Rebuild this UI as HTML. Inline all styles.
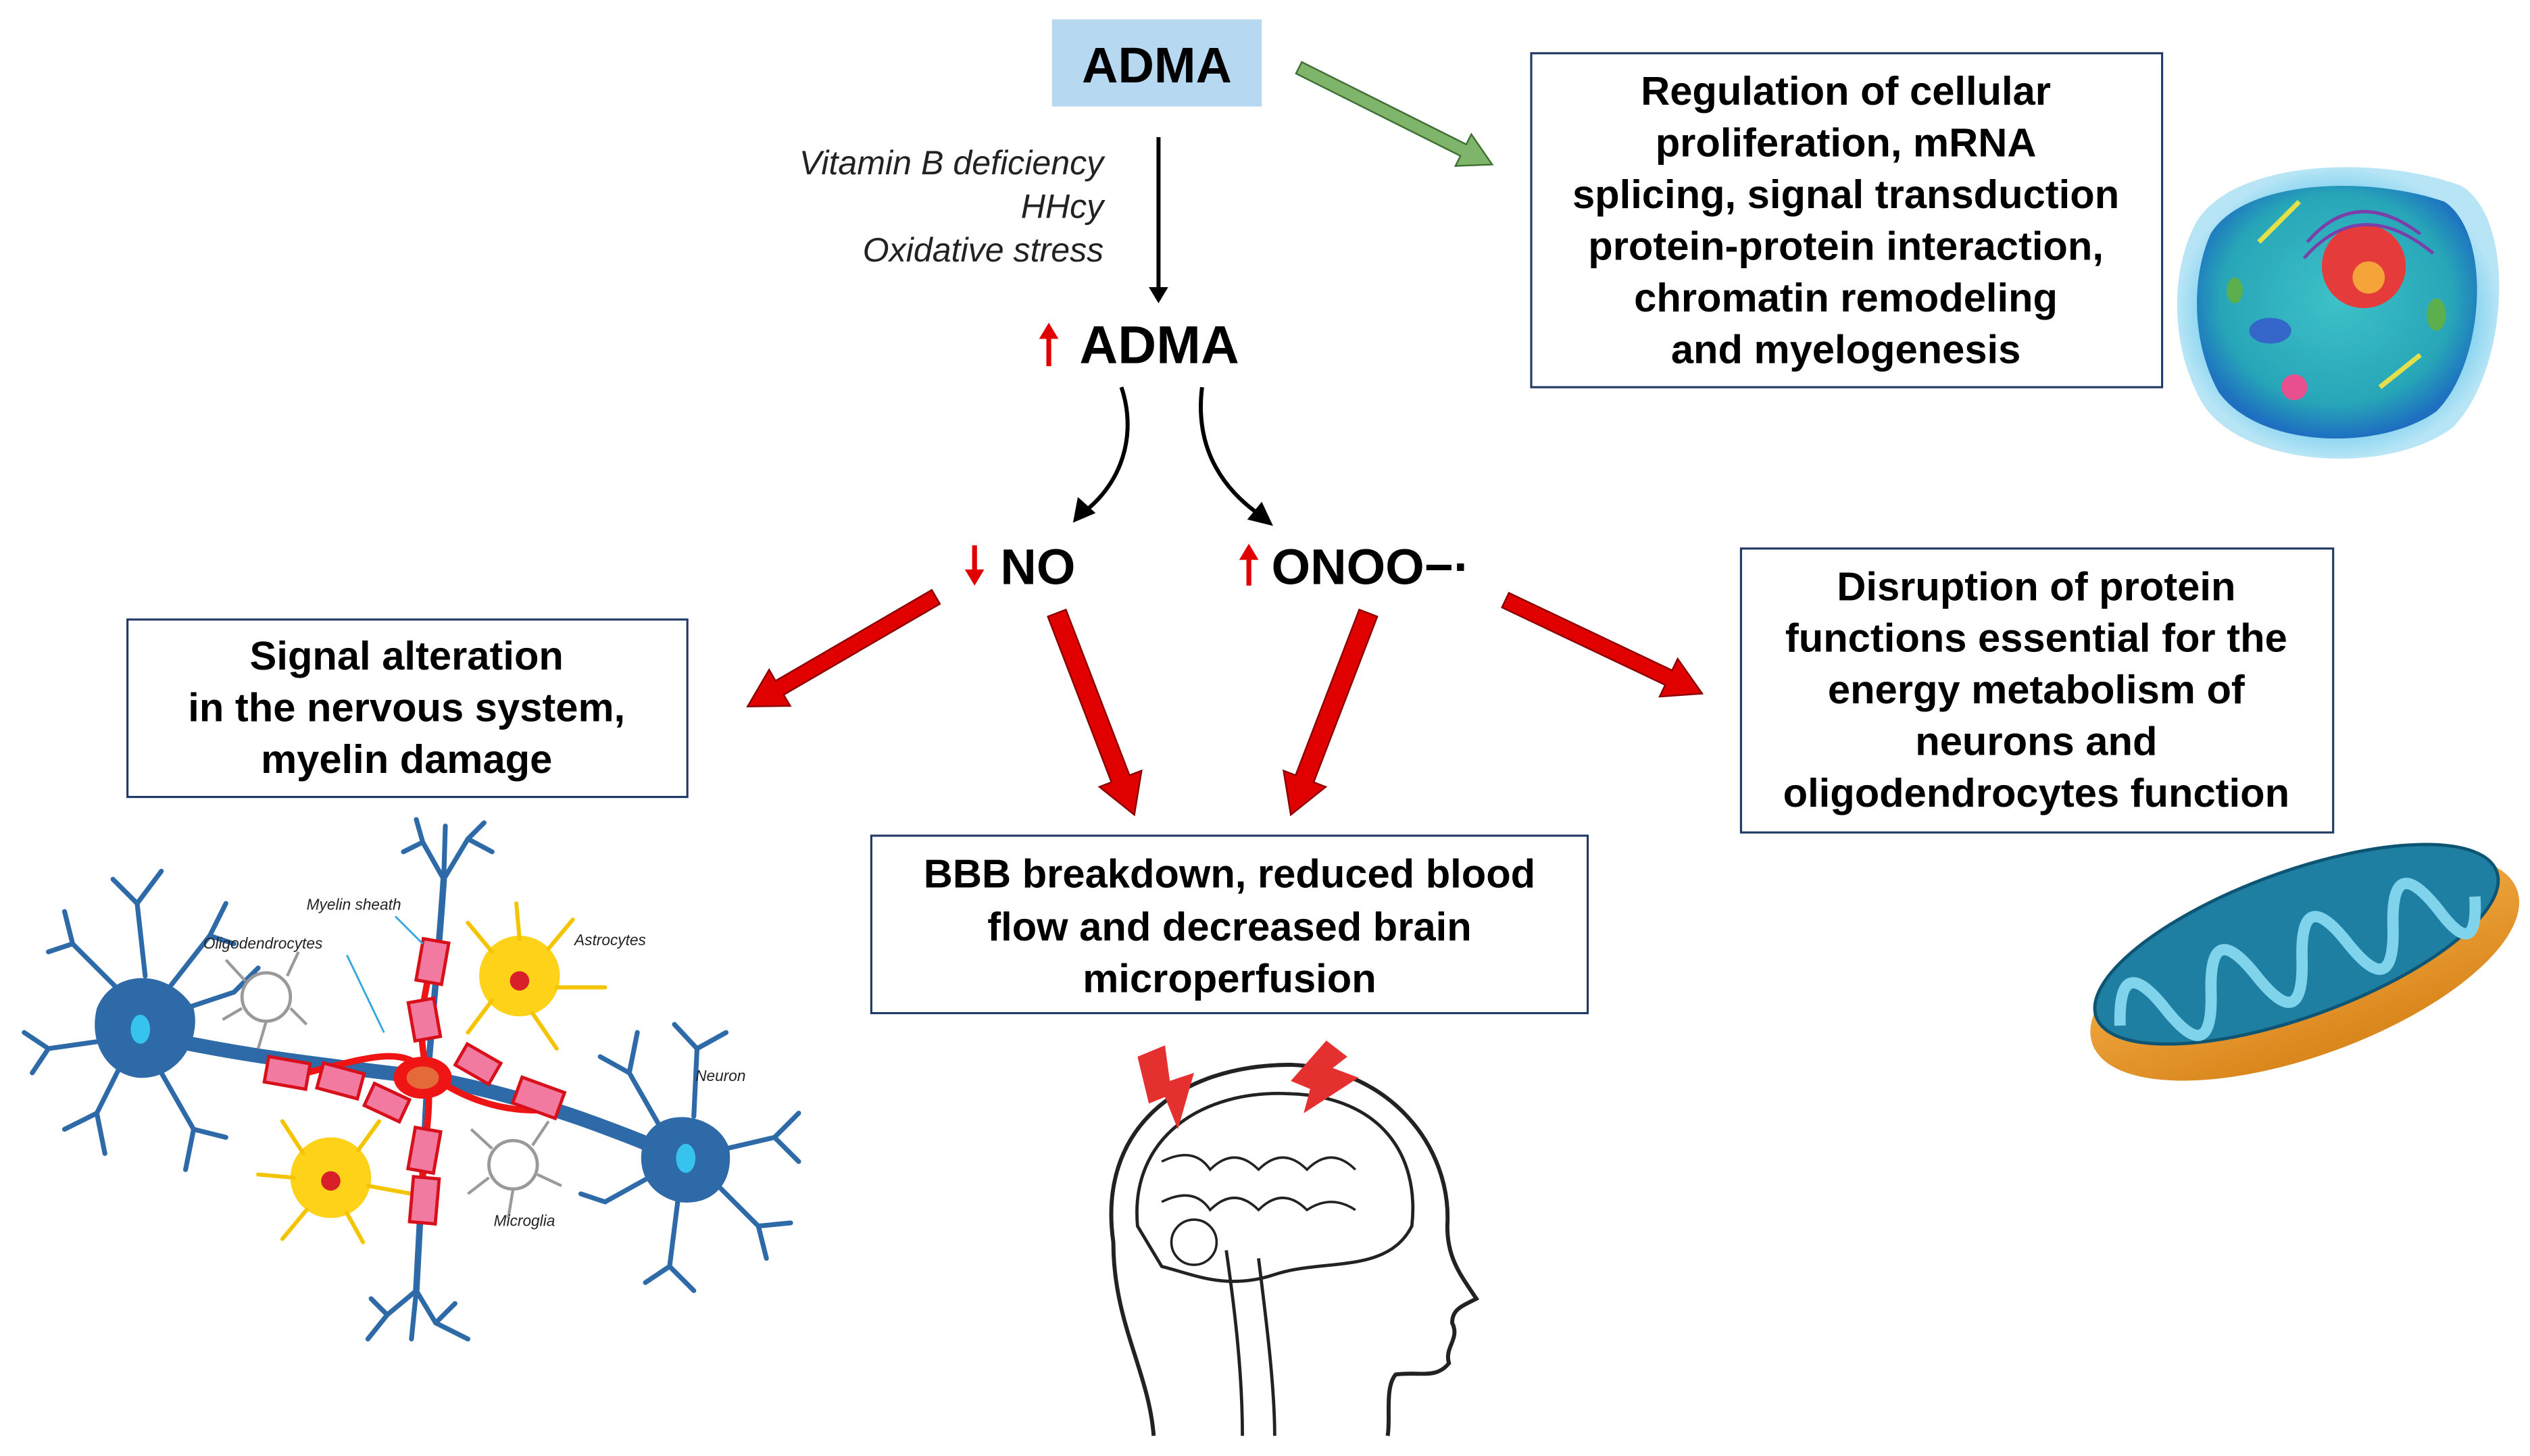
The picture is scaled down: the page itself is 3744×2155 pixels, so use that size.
<!DOCTYPE html>
<html><head><meta charset="utf-8"><style>
html,body{margin:0;padding:0;background:#fff;}
svg{display:block;}
.b{font-family:"Liberation Sans",Arial,sans-serif;font-weight:bold;fill:#000;}
.i{font-family:"Liberation Sans",Arial,sans-serif;font-style:italic;fill:#222;}
.box{fill:#fff;stroke:#1f3864;stroke-width:1.3;}
.ra{fill:#e00000;stroke:#8a0000;stroke-width:1;}
.den{stroke:#2e6aa8;stroke-width:3;fill:none;stroke-linecap:round;}
.ast{stroke:#f5c400;stroke-width:2.5;fill:none;stroke-linecap:round;}
.mg{stroke:#9a9a9a;stroke-width:1.8;fill:none;}
</style></head><body>
<svg width="3744" height="2155" viewBox="0 0 1568 902.5" xmlns="http://www.w3.org/2000/svg">
<rect x="0" y="0" width="1568" height="902.5" fill="#fff"/>

<rect x="652" y="12" width="130" height="54" fill="#b6d9f1"/>
<text x="717" y="51" class="b" font-size="31" text-anchor="middle">ADMA</text>

<g transform="translate(805,42) rotate(26.6)">
<polygon points="0,-4 114,-4 114,-11 134,0 114,11 114,4 0,4" fill="#7fb56a" stroke="#3f6e33" stroke-width="1"/>
</g>

<text x="684" y="108" class="i" font-size="21" text-anchor="end">Vitamin B deficiency</text>
<text x="684" y="135" class="i" font-size="21" text-anchor="end">HHcy</text>
<text x="684" y="162" class="i" font-size="21" text-anchor="end">Oxidative stress</text>

<line x1="718" y1="85" x2="718" y2="180" stroke="#000" stroke-width="2.5"/>
<polygon points="712,178 724,178 718,188" fill="#000"/>

<line x1="650" y1="227" x2="650" y2="208" stroke="#e00000" stroke-width="3"/>
<polygon points="644,210 656,210 650,200" fill="#e00000"/>
<text x="669" y="225" class="b" font-size="33">ADMA</text>

<path d="M695,240 C705,270 695,300 671,318" stroke="#000" stroke-width="2.5" fill="none"/>
<polygon points="665,324 668,308 679,318" fill="#000"/>
<path d="M745,240 C740,280 760,305 782,320" stroke="#000" stroke-width="2.5" fill="none"/>
<polygon points="789,326 773,322 782,311" fill="#000"/>

<line x1="604" y1="338" x2="604" y2="356" stroke="#e00000" stroke-width="3"/>
<polygon points="598,353 610,353 604,363" fill="#e00000"/>
<text x="620" y="362" class="b" font-size="31">NO</text>
<line x1="774" y1="363" x2="774" y2="345" stroke="#e00000" stroke-width="3"/>
<polygon points="768,347 780,347 774,337" fill="#e00000"/>
<text x="788" y="362" class="b" font-size="31">ONOO−·</text>

<g transform="translate(580,370) rotate(149.8)"><polygon class="ra" points="0,-5 112,-5 112,-13 135,0 112,13 112,5 0,5"/></g>
<g transform="translate(655,380) rotate(69)"><polygon class="ra" points="0,-6 110,-6 110,-14 134,0 110,14 110,6 0,6"/></g>
<g transform="translate(848,380) rotate(111)"><polygon class="ra" points="0,-6 110,-6 110,-14 134,0 110,14 110,6 0,6"/></g>
<g transform="translate(933,372) rotate(25.4)"><polygon class="ra" points="0,-5 112,-5 112,-13 135,0 112,13 112,5 0,5"/></g>

<rect class="box" x="949" y="33" width="391" height="207"/>
<g class="b" font-size="25" text-anchor="middle">
<text x="1144" y="65">Regulation of cellular</text>
<text x="1144" y="97">proliferation, mRNA</text>
<text x="1144" y="129">splicing, signal transduction</text>
<text x="1144" y="161">protein-protein interaction,</text>
<text x="1144" y="193">chromatin remodeling</text>
<text x="1144" y="225">and myelogenesis</text>
</g>

<rect class="box" x="79" y="384" width="347" height="110"/>
<g class="b" font-size="25" text-anchor="middle">
<text x="252" y="415">Signal alteration</text>
<text x="252" y="447">in the nervous system,</text>
<text x="252" y="479">myelin damage</text>
</g>

<rect class="box" x="540" y="518" width="444" height="110"/>
<g class="b" font-size="25" text-anchor="middle">
<text x="762" y="550">BBB breakdown, reduced blood</text>
<text x="762" y="583">flow and decreased brain</text>
<text x="762" y="615">microperfusion</text>
</g>

<rect class="box" x="1079" y="340" width="367" height="176"/>
<g class="b" font-size="25" text-anchor="middle">
<text x="1262" y="372">Disruption of protein</text>
<text x="1262" y="404">functions essential for the</text>
<text x="1262" y="436">energy metabolism of</text>
<text x="1262" y="468">neurons and</text>
<text x="1262" y="500">oligodendrocytes function</text>
</g>

<defs>
<radialGradient id="cg" cx="50%" cy="45%" r="55%"><stop offset="0" stop-color="#3ec1c8"/><stop offset="0.75" stop-color="#27a6b8"/><stop offset="1" stop-color="#1e6fc0"/></radialGradient>
<radialGradient id="cout" cx="50%" cy="50%" r="50%"><stop offset="0.8" stop-color="#7fd0ee"/><stop offset="1" stop-color="#b7e5f6"/></radialGradient>
<linearGradient id="mo" x1="0" y1="0" x2="0" y2="1"><stop offset="0" stop-color="#f6b24a"/><stop offset="1" stop-color="#d9861c"/></linearGradient>
</defs>
<path d="M1360,140 C1380,100 1470,95 1525,115 C1560,135 1555,230 1520,265 C1480,295 1390,290 1365,250 C1345,215 1345,170 1360,140 Z" fill="url(#cout)"/>
<path d="M1370,145 C1390,112 1465,108 1515,125 C1545,145 1540,225 1510,255 C1475,280 1400,278 1375,243 C1358,212 1358,172 1370,145 Z" fill="url(#cg)"/>
<circle cx="1465" cy="165" r="26" fill="#e53b3b"/>
<circle cx="1468" cy="172" r="10" fill="#f5a43a"/>
<path d="M1430,150 q30,-35 70,-5" stroke="#7a3fa8" stroke-width="2" fill="none"/>
<path d="M1428,160 q35,-40 80,-3" stroke="#7a3fa8" stroke-width="2" fill="none"/>
<ellipse cx="1407" cy="205" rx="13" ry="8" fill="#3467c9"/>
<ellipse cx="1385" cy="180" rx="5" ry="8" fill="#5bb04d"/>
<ellipse cx="1510" cy="195" rx="6" ry="10" fill="#5bb04d"/>
<circle cx="1422" cy="240" r="8" fill="#e84f8e"/>
<line x1="1400" y1="150" x2="1425" y2="125" stroke="#e4e04a" stroke-width="3"/>
<line x1="1475" y1="240" x2="1500" y2="220" stroke="#e4e04a" stroke-width="3"/>

<g transform="rotate(-20 1425 590)">
<ellipse cx="1425" cy="600" rx="140" ry="55" fill="url(#mo)"/>
<ellipse cx="1425" cy="585" rx="132" ry="45" fill="#1f7fa3" stroke="#0e5573" stroke-width="2"/>
<path d="M1305,595 q15,-45 30,0 q15,45 30,0 q15,-45 30,0 q15,45 30,0 q15,-45 30,0 q15,45 30,0 q15,-45 30,0 q12,40 24,0" stroke="#7fd3ea" stroke-width="7" fill="none"/>
</g>

<g stroke="#222" stroke-width="2.5" fill="none">
<path d="M715,890 C712,850 690,820 690,770 C680,700 730,660 800,660 C860,662 900,710 897,760 C897,780 905,790 915,805 C905,810 900,812 900,820 C905,830 895,835 898,845 C890,855 880,850 865,852 C858,860 862,880 860,890"/>
<path d="M705,760 C700,705 745,675 800,678 C855,680 880,715 875,760 C860,790 820,780 790,790 C760,800 740,790 720,785 Z" stroke-width="2"/>
<path d="M720,720 q20,-10 30,5 q15,-15 30,0 q15,-15 30,0 q15,-15 30,0 M720,745 q20,-10 30,5 q15,-15 30,0 q15,-15 30,0 q15,-10 30,0" stroke-width="1.5"/>
<circle cx="740" cy="770" r="14" stroke-width="1.5"/>
<path d="M760,775 C765,810 770,850 770,890 M780,780 C785,820 790,860 790,890" stroke-width="2"/>
</g>
<polygon points="705,655 722,648 725,670 740,665 730,700 722,680 712,684" fill="#e53030"/>
<polygon points="800,670 822,645 835,655 826,662 842,668 808,690 812,675" fill="#e53030"/>

<g>
<path d="M85,640 C150,655 200,660 265,668 C330,680 380,700 423,718" stroke="#2e6aa8" stroke-width="9" fill="none"/>
<path d="M275,545 C272,590 268,630 265,668 C262,720 260,760 258,800" stroke="#2e6aa8" stroke-width="4" fill="none"/>
<path d="M60,625 C70,600 105,600 120,625 C125,645 110,670 85,668 C65,665 55,645 60,625 Z" fill="#2e6aa8"/>
<ellipse cx="87" cy="638" rx="6" ry="9" fill="#36c3ee"/>
<path class="den" d="M75,615 L45,585 L30,590 M45,585 L40,565 M90,605 L85,560 L70,545 M85,560 L100,540 M105,612 L130,580 L140,560 M130,580 L145,585 M65,645 L30,650 L15,640 M30,650 L20,665 M75,660 L60,690 L40,700 M60,690 L65,715 M100,665 L120,700 L115,725 M120,700 L140,705 M115,625 L145,615 L160,600"/>
<path d="M400,705 C410,685 445,690 452,712 C455,735 440,748 420,745 C400,740 393,722 400,705 Z" fill="#2e6aa8"/>
<ellipse cx="425" cy="718" rx="6" ry="9" fill="#36c3ee"/>
<path class="den" d="M410,700 L390,665 L372,655 M390,665 L395,640 M430,692 L432,650 L418,635 M432,650 L450,640 M450,712 L480,705 L495,690 M480,705 L495,720 M445,735 L470,760 L475,780 M470,760 L490,758 M420,745 L415,785 L400,795 M415,785 L430,800 M402,730 L375,745 L360,740"/>
<path class="den" d="M275,545 L262,522 L258,508 M275,545 L290,520 L300,510 M262,522 L250,528 M290,520 L305,528 M275,545 L276,512"/>
<path class="den" d="M258,800 L240,815 L228,830 M258,800 L270,820 L290,830 M258,800 L255,830 M240,815 L230,805 M270,820 L282,808"/>
<circle cx="322" cy="605" r="25" fill="#ffd21a"/>
<circle cx="322" cy="608" r="6" fill="#d8202a"/>
<path class="ast" d="M305,590 L290,572 M340,588 L355,570 M345,612 L375,612 M330,628 L345,650 M305,620 L290,640 M322,582 L320,560"/>
<circle cx="205" cy="730" r="25" fill="#ffd21a"/>
<circle cx="205" cy="732" r="6" fill="#d8202a"/>
<path class="ast" d="M188,715 L175,695 M222,713 L235,695 M228,735 L255,740 M215,752 L225,770 M190,750 L175,768 M182,730 L160,728"/>
<circle cx="318" cy="722" r="15" fill="none" stroke="#999" stroke-width="2"/>
<path class="mg" d="M305,712 L292,700 M330,710 L340,695 M333,728 L348,735 M318,737 L315,755 M303,730 L290,740"/>
<circle cx="165" cy="618" r="15" fill="none" stroke="#999" stroke-width="2"/>
<path class="mg" d="M152,608 L140,595 M178,605 L185,590 M180,625 L190,635 M165,633 L160,650 M150,625 L138,632"/>
<path d="M190,665 C230,655 250,648 265,665 C285,680 310,690 340,688 M265,665 C258,640 262,620 268,595 M265,665 C268,690 262,710 262,735" stroke="#f01515" stroke-width="4" fill="none"/>
<ellipse cx="262" cy="668" rx="18" ry="13" fill="#f01515"/>
<ellipse cx="262" cy="668" rx="10" ry="7" fill="#e46a3a"/>
<g fill="#f27aa0" stroke="#d8101b" stroke-width="2">
<rect x="165" y="657" width="26" height="16" transform="rotate(10 178 665)"/>
<rect x="198" y="662" width="26" height="16" transform="rotate(15 211 670)"/>
<rect x="228" y="676" width="24" height="15" transform="rotate(25 240 683)"/>
<rect x="284" y="652" width="24" height="15" transform="rotate(30 296 660)"/>
<rect x="320" y="672" width="28" height="17" transform="rotate(20 334 680)"/>
<rect x="260" y="583" width="16" height="26" transform="rotate(10 268 596)"/>
<rect x="255" y="620" width="16" height="24" transform="rotate(-10 263 632)"/>
<rect x="255" y="700" width="16" height="26" transform="rotate(10 263 713)"/>
<rect x="255" y="730" width="16" height="28" transform="rotate(5 263 744)"/>
</g>
<g class="i" font-size="9.5" fill="#111">
<text x="190" y="564">Myelin sheath</text>
<text x="126" y="588">Oligodendrocytes</text>
<text x="356" y="586">Astrocytes</text>
<text x="431" y="670">Neuron</text>
<text x="306" y="760">Microglia</text>
</g>
<path d="M245,568 L262,585 M215,592 L238,640" stroke="#36a8e0" stroke-width="1.2"/>
</g>
</svg>
</body></html>
